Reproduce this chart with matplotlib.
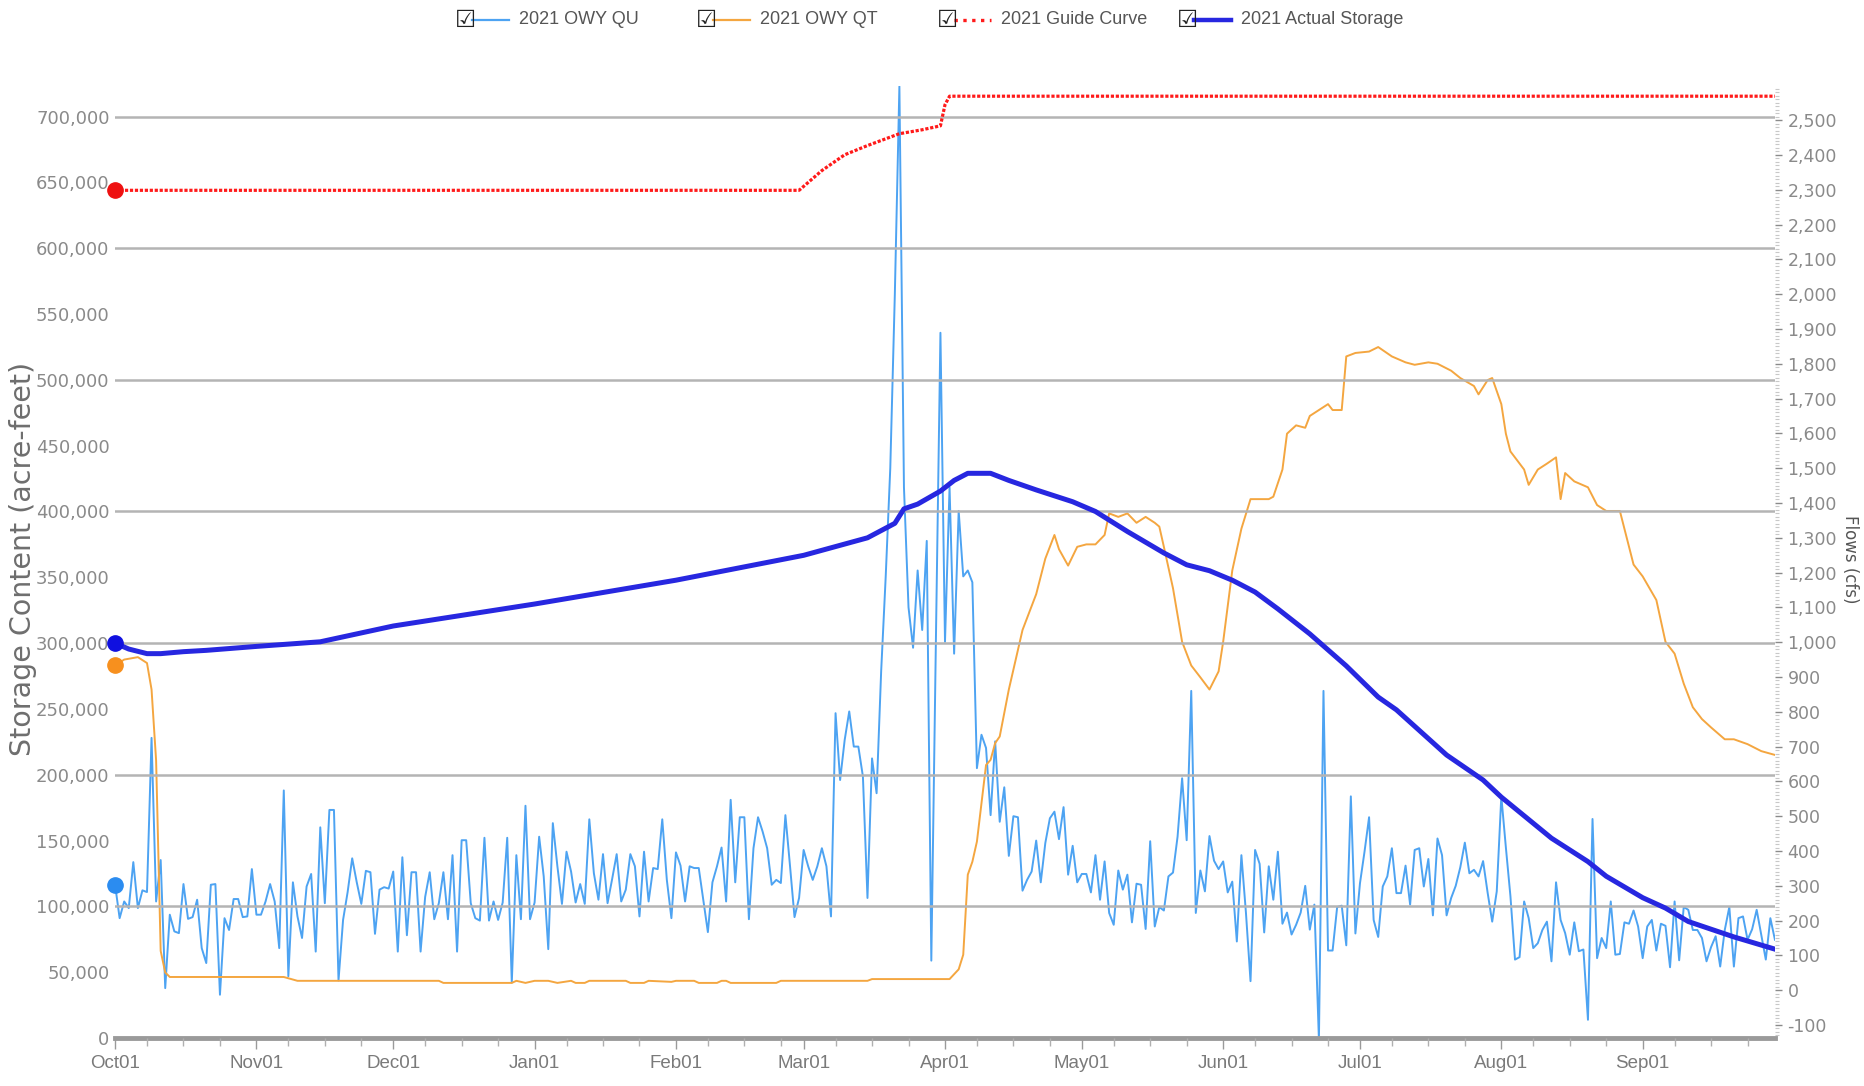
import matplotlib
matplotlib.use("Agg")
import matplotlib.pyplot as plt
import matplotlib.dates as mdates
from matplotlib.lines import Line2D
import pandas as pd

# water year 2021, daily values
start = pd.Timestamp("2020-10-01")

# 2021 OWY QU (cfs), one value per day Oct01..Sep30
qu = [
    303, 207, 255, 236, 368, 236, 287, 282, 725, 255,
    374, 6, 217, 169, 164, 305, 205, 210, 260, 121,
    78, 303, 305, -13, 207, 173, 262, 262, 210, 212,
    348, 217, 217, 255, 305, 255, 121, 574, 40, 310,
    212, 150, 298, 334, 111, 468, 250, 518, 518, 28,
    202, 282, 379, 310, 248, 343, 339, 162, 289, 296,
    292,
    341, 111, 382, 158, 339, 339, 111, 268, 339, 204,
    250, 339, 204, 388, 111, 431, 431, 250, 207, 200,
    438, 200, 255, 202, 252, 438, 22, 388, 204, 530,
    204, 252, 441, 327, 118, 480, 356, 248, 398, 341,
    252, 305, 248, 491, 336, 260, 391, 250, 319, 391,
    255, 289, 391, 356, 212, 398, 255, 351, 348, 491,
    317, 207, 396, 358, 255, 356, 351, 351, 260, 167,
    310, 356, 410, 255, 547, 310, 497, 497, 204, 408,
    497, 456, 408, 303, 317, 308, 503, 359, 210, 265,
    403, 356, 317, 356, 408, 356, 212, 796, 604, 719,
    801, 700, 700, 614, 265, 666, 566,
    916, 1189, 1500, 2000, 2597, 1445, 1100, 984, 1206, 1035,
    1291, 85, 1001, 1889, 1001, 1445, 967, 1377, 1189, 1206, 1172,
    638, 734, 696, 503, 715, 484, 583, 386, 500, 497,
    286, 317, 341, 430, 310, 423, 494, 513, 434, 526,
    332, 415, 310, 334, 334, 281, 388, 260, 370, 222,
    188, 344, 289, 332, 195, 306, 303, 176, 428, 183,
    239, 229, 327, 338, 441, 609, 431, 860, 222, 344,
    284,
    443, 372, 348, 370, 281, 312, 140, 388, 222, 26,
    403, 363, 166, 356, 260, 398, 191, 223, 160, 188,
    223, 300, 174, 246, -142, 860, 114, 114, 239, 243,
    129, 557, 163, 307, 398, 497, 202, 153, 298, 327,
    408, 279, 279, 358, 246, 403, 408, 298, 377, 215,
    436, 388, 215, 265, 300, 353, 424, 336, 346, 327,
    371, 280, 197, 284, 557, 410, 270, 88, 95, 255,
    207, 121, 135, 173, 197, 83, 310, 202, 164, 102,
    195, 112, 117, -85, 492, 92, 150, 121, 255, 102,
    104, 195, 191, 229, 183, 92, 183, 202, 114, 191,
    185, 66, 255, 86, 239, 231, 173, 173, 150, 83,
    124, 155, 68, 173, 239, 68, 207, 212, 145, 175,
    231, 159, 88, 207, 145,
]

# 2021 OWY QT (cfs), read at day offsets
qt_day = [0, 2, 5, 7, 8, 9, 10, 11, 12, 37, 40, 71, 72, 87, 88, 90, 92, 95, 97, 100,
          101, 103, 104, 112, 113, 116, 117, 122, 123, 127, 128, 132, 133, 134, 135, 145,
          146, 165, 166, 183, 185, 186, 187, 188, 189, 190, 191, 192, 193, 194, 196, 199,
          202, 204, 206, 207, 209, 211, 213, 215, 217, 218, 220, 222, 224, 226, 228, 229,
          230, 232, 234, 236, 238, 240, 242, 243, 245, 247, 249, 251, 253, 254, 256, 257,
          259, 261, 262, 264, 266, 267, 269, 270, 272, 275, 277, 280, 283, 285, 288, 290,
          293, 295, 298, 299, 301, 302, 304, 305, 306, 309, 310, 312, 314, 316, 317, 318,
          320, 323, 325, 327, 330, 331, 333, 335, 338, 340, 342, 344, 346, 348, 350, 353,
          355, 358, 361, 364]
qt_val = [933, 950, 957, 940, 864, 660, 113, 51, 38, 38, 27, 27, 21, 21, 27, 21, 27, 27, 21, 27,
          21, 21, 27, 27, 21, 21, 27, 24, 27, 27, 21, 21, 27, 27, 21, 21,
          27, 27, 32, 32, 60, 102, 332, 369, 427, 537, 647, 662, 710, 729, 864, 1035,
          1138, 1240, 1308, 1267, 1220, 1274, 1281, 1281, 1308, 1370, 1360, 1370, 1343, 1360, 1343, 1332,
          1274, 1155, 1001, 933, 899, 864, 916, 1001, 1206, 1326, 1411, 1411, 1411, 1418, 1496, 1599,
          1623, 1616, 1650, 1667, 1684, 1667, 1667, 1821, 1831, 1835, 1848, 1821, 1804, 1797, 1804, 1800,
          1780, 1759, 1736, 1712, 1753, 1759, 1684, 1599, 1548, 1496, 1452, 1496, 1513, 1531, 1411, 1486,
          1462, 1445, 1394, 1377, 1377, 1326, 1223, 1189, 1121, 1001, 967, 881, 813, 779, 755, 721,
          721, 707, 687, 676]

# 2021 Guide Curve (acre-feet)
guide_day = [0, 150, 155, 160, 165, 172, 177, 181, 182, 183, 364]
guide_val = [644000, 644000, 659000, 671000, 678000, 687000, 690000, 693000, 709000, 715500, 715500]

# 2021 Actual Storage (acre-feet)
stor_day = [0, 3, 7, 10, 15, 20, 31, 45, 61, 92, 123, 151, 165, 171, 173, 176, 181, 184, 187,
            192, 196, 202, 210, 215, 222, 230, 235, 240, 245, 250, 255, 262, 270, 277, 281,
            292, 300, 304, 315, 323, 327, 335, 340, 345, 355, 364]
stor_val = [300000, 295500, 292000, 292000, 293500, 294500, 297500, 301000, 313000, 329700,
            347800, 366700, 380000, 391000, 402000, 405600, 415500, 423600, 429000, 429000,
            423600, 416400, 407400, 400000, 384800, 368500, 359500, 355000, 347800, 338800,
            326000, 307000, 282700, 259000, 249300, 215000, 196000, 183000, 151800, 134000,
            122900, 106600, 98700, 88500, 76800, 67500]

month_ticks = ["2020-10-01", "2020-11-01", "2020-12-01", "2021-01-01", "2021-02-01", "2021-03-01",
               "2021-04-01", "2021-05-01", "2021-06-01", "2021-07-01", "2021-08-01", "2021-09-01"]


def to_dates(days):
    return [start + pd.Timedelta(days=int(d)) for d in days]


qu_dates = pd.date_range(start, periods=len(qu), freq="D")
narrow = ["Liberation Sans", "DejaVu Sans"]

fig = plt.figure(figsize=(18.65, 10.86), dpi=100)
ax = fig.add_axes([0.0617, 0.0442, 0.89, 0.8766])
ax2 = ax.twinx()

gray = "#8a8a8a"

# left axis: storage
ax.set_ylim(0, 723240)
for yv in range(100000, 800000, 100000):
    ax.axhline(yv, color="#b4b4b4", lw=1.8, zorder=0)
ax.axhline(0, color="#9a9a9a", lw=3.5, zorder=1, clip_on=False)
ax.set_yticks(range(0, 750000, 50000))
ax.set_yticklabels(["{:,}".format(v) for v in range(0, 750000, 50000)])
ax.tick_params(axis="y", colors=gray, labelsize=13, length=0, pad=4)
fig.text(0.0121, 0.485, "Storage Content (acre-feet)", rotation=90, fontsize=20.5,
         color="#6e6e6e", ha="center", va="center")

# right axis: flows
ax2.set_ylim(-137.3, 2598)
ax2.set_yticks(range(-100, 2600, 100))
ax2.set_yticklabels(["{:,}".format(v) for v in range(-100, 2600, 100)])
ax2.set_yticks(range(-130, 2600, 10), minor=True)
ax2.tick_params(axis="y", which="major", colors=gray, labelsize=12.5, length=5, width=1, pad=4)
ax2.tick_params(axis="y", which="minor", colors="#c8c8c8", length=3, width=0.8)
fig.text(0.9917, 0.485, "Flows (cfs)", rotation=270, fontsize=12,
         color="#555555", ha="center", va="center")

for a in (ax, ax2):
    for s in a.spines.values():
        s.set_visible(False)

# series
ax2.plot(qu_dates, qu, color="#4da3f2", lw=1.4, zorder=3)
ax2.plot(to_dates(qt_day), qt_val, color="#f4a640", lw=1.4, zorder=3)
ax.plot(to_dates(guide_day), guide_val, color="#ff1a1a", lw=2.3, ls=(0, (1, 0.55)), zorder=4)
ax.plot(to_dates(stor_day), stor_val, color="#2727e0", lw=3.6, zorder=5)

# start markers
ax2.plot([qu_dates[0]], [qu[0]], "o", color="#2b8cf0", ms=11, zorder=6, clip_on=False)
ax2.plot([start], [qt_val[0]], "o", color="#f7901e", ms=11, zorder=6, clip_on=False)
ax.plot([start], [guide_val[0]], "o", color="#ee1111", ms=11, zorder=7, clip_on=False)
ax.plot([start], [stor_val[0]], "o", color="#1010e0", ms=11, zorder=7, clip_on=False)
ax.set_zorder(ax2.get_zorder() + 1)
ax.patch.set_visible(False)

# x axis
ax.set_xlim(start, start + pd.Timedelta(days=364))
ax.set_xticks(pd.to_datetime(month_ticks))
ax.xaxis.set_major_formatter(mdates.DateFormatter("%b%d"))
ax.xaxis.set_minor_locator(mdates.DayLocator(bymonthday=[8, 16, 24]))
ax.tick_params(axis="x", which="major", colors="#9a9a9a", length=8, width=1, pad=4)
ax.tick_params(axis="x", which="minor", colors="#b0b0b0", length=6, width=1)
for lab in ax.get_xticklabels():
    lab.set_family(narrow)
    lab.set_fontsize(13.5)
    lab.set_color("#7a7a7a")

# legend with checkboxes
items = [
    ("2021 OWY QU", "#4da3f2", "-", 1.6, 0.2461),
    ("2021 OWY QT", "#f4a640", "-", 1.6, 0.3753),
    ("2021 Guide Curve", "#ff1a1a", ":", 2.4, 0.5045),
    ("2021 Actual Storage", "#2727e0", "-", 3.2, 0.6332),
]
ly = 0.9816
for label, col, ls, lw, x0 in items:
    fig.text(x0 - 0.002, ly, "\u2611", fontsize=17, color="#222222", ha="left", va="center",
             family="DejaVu Sans")
    fig.add_artist(Line2D([x0 + 0.0068, x0 + 0.0268], [ly, ly], color=col, ls=ls, lw=lw))
    fig.text(x0 + 0.032, ly, label, fontsize=13, color="#555555", ha="left", va="center",
             family=narrow)

fig.savefig("out.png", dpi=100)
